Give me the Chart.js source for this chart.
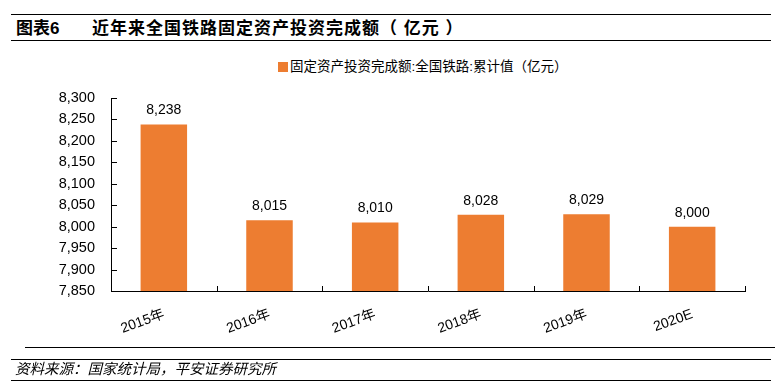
<!DOCTYPE html>
<html>
<head>
<meta charset="utf-8">
<script src="https://cdn.jsdelivr.net/npm/chart.js@4/dist/chart.umd.min.js"></script>
<style>
  html, body { margin: 0; padding: 0; background: #fff; }
  body { width: 782px; height: 387px; position: relative; overflow: hidden;
         font-family: "Liberation Sans", Arial, "Noto Sans CJK SC", sans-serif; color: #000; }
  #wrap { position: absolute; left: 0; top: 0; width: 782px; height: 387px; }
  .hline { position: absolute; height: 0; border-top: 1.5px solid #000; }
  .txt { position: absolute; white-space: nowrap; line-height: 1; }
</style>
</head>
<body>
<div class="hline" style="left:11px; width:760px; top:14px;"></div>
<div class="txt" style="left:16px; top:20px; font-size:17px; font-weight:bold;">图表6</div>
<div class="txt" style="left:92px; top:20px; font-size:17px; font-weight:bold; letter-spacing:1px;">近年来全国铁路固定资产投资完成额（ 亿元 ）</div>
<div class="hline" style="left:11px; width:760px; top:40px;"></div>

<div class="txt" style="left:278px; top:62px; width:10px; height:10px; background:#ED7D31;"></div>
<div class="txt" style="left:290px; top:60px; font-size:13.5px;">固定资产投资完成额:全国铁路:累计值（亿元）</div>

<div id="wrap"><canvas id="c"></canvas></div>

<div class="hline" style="left:25px; width:750px; top:347px; border-top-width:1.2px;"></div>
<div class="hline" style="left:11px; width:760px; top:359px; border-top-width:1.2px;"></div>
<div class="txt" style="left:15px; top:362px; font-size:14.5px; font-style:italic;">资料来源：国家统计局，平安证券研究所</div>
<div class="hline" style="left:11px; width:760px; top:380px; border-top-width:1.2px;"></div>

<script>
const categories = ["2015年", "2016年", "2017年", "2018年", "2019年", "2020E"];
const investment = [8238, 8015, 8010, 8028, 8029, 8000];
const seriesName = "固定资产投资完成额:全国铁路:累计值（亿元）";
const yMin = 7850, yMax = 8300, yStep = 50;

const fmt = v => Number(v).toLocaleString('en-US');

const innerTicks = {
  id: 'innerTicks',
  afterDraw(chart) {
    const ctx = chart.ctx;
    const xs = chart.scales.x, ys = chart.scales.y;
    const area = chart.chartArea;
    ctx.save();
    ctx.strokeStyle = '#000';
    ctx.lineWidth = 1;
    ctx.beginPath();
    ys.ticks.forEach((t, i) => {
      const y = Math.round(ys.getPixelForTick(i)) + 0.5;
      ctx.moveTo(area.left, y);
      ctx.lineTo(area.left + 6, y);
    });
    for (let i = 0; i <= categories.length; i++) {
      const x = Math.round(xs.getPixelForValue(i - 0.5)) + 0.5;
      ctx.moveTo(x, area.bottom);
      ctx.lineTo(x, area.bottom - 5);
    }
    ctx.stroke();
    ctx.restore();
  }
};

const valueLabels = {
  id: 'valueLabels',
  afterDatasetsDraw(chart) {
    const ctx = chart.ctx;
    const meta = chart.getDatasetMeta(0);
    ctx.save();
    ctx.font = '14px "Liberation Sans", Arial, sans-serif';
    ctx.fillStyle = '#000';
    ctx.textAlign = 'center';
    ctx.textBaseline = 'middle';
    meta.data.forEach((bar, i) => {
      ctx.fillText(fmt(investment[i]), bar.x, bar.y - 14);
    });
    ctx.restore();
  }
};

new Chart(document.getElementById('c'), {
  type: 'bar',
  data: {
    labels: categories,
    datasets: [{
      label: seriesName,
      data: investment,
      backgroundColor: '#ED7D31',
      borderWidth: 0,
      categoryPercentage: 0.88,
      barPercentage: 0.5
    }]
  },
  options: {
    responsive: true,
    maintainAspectRatio: false,
    animation: false,
    devicePixelRatio: 1,
    layout: { padding: { top: 98, right: 37, bottom: 0, left: 0 } },
    plugins: { legend: { display: false }, tooltip: { enabled: false } },
    scales: {
      x: {
        grid: { display: false, drawTicks: false },
        border: { display: true, color: '#000', width: 1 },
        ticks: {
          color: '#000',
          font: { family: '"Liberation Sans", Arial, "Noto Sans CJK SC", sans-serif', size: 14 },
          minRotation: 20, maxRotation: 20, padding: 15, autoSkip: false
        },
        afterFit(s) { s.height = 96; }
      },
      y: {
        min: yMin, max: yMax,
        grid: { display: false, drawTicks: false },
        border: { display: true, color: '#000', width: 1 },
        ticks: {
          stepSize: yStep,
          color: '#000',
          padding: 16,
          font: { family: '"Liberation Sans", Arial, sans-serif', size: 14.5 },
          callback: v => fmt(v)
        },
        afterFit(s) { s.width = 111; }
      }
    }
  },
  plugins: [innerTicks, valueLabels]
});
</script>
</body>
</html>
